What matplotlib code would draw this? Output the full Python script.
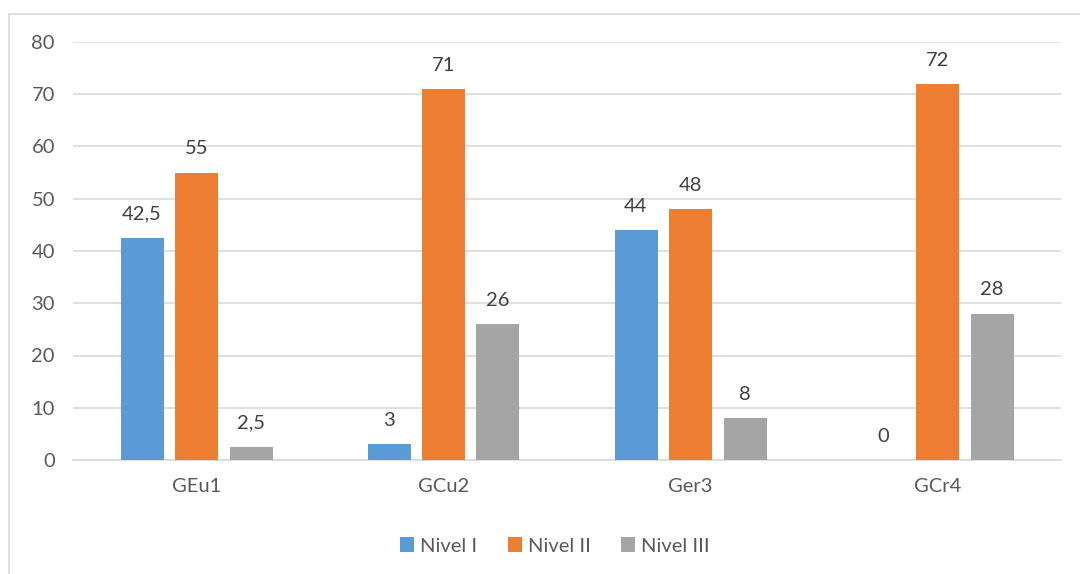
import matplotlib
matplotlib.use("Agg")
import matplotlib.pyplot as plt
import numpy as np
from matplotlib.patches import Rectangle

categories = ["GEu1", "GCu2", "Ger3", "GCr4"]
series_names = ["Nivel I", "Nivel II", "Nivel III"]
nivel1 = [42.5, 3, 44, 0]
nivel2 = [55, 71, 48, 72]
nivel3 = [2.5, 26, 8, 28]
colors = ["#5B9BD5", "#ED7D31", "#A5A5A5"]

plt.rcParams['font.family'] = ['Lato', 'DejaVu Sans']

fig = plt.figure(figsize=(10.8, 5.74), dpi=100)
ax = fig.add_axes([73/1080, 1 - 460/574, (1061-73)/1080, (460-42)/574])

# outer chart border
fig.patches.append(Rectangle((9/1080, -0.1), 1.2, 0.1 + (574-13.5)/574,
                             transform=fig.transFigure, fill=False,
                             edgecolor="#D9D9D9", linewidth=1.2, zorder=0))

x = np.arange(len(categories))
w = 43/247
step = 54.5/247
for i, (vals, name, c) in enumerate(zip([nivel1, nivel2, nivel3], series_names, colors)):
    pos = x + (i - 1) * step
    ax.bar(pos, vals, width=w, color=c, label=name, zorder=3)
    for p, v in zip(pos, vals):
        txt = f"{v:g}".replace(".", ",")
        ax.annotate(txt, (p, v), xytext=(0, 11), textcoords="offset points",
                    ha="center", va="bottom", fontsize=14.5, color="#404040")

ax.set_xlim(-0.5, len(categories) - 0.5)
ax.set_ylim(0, 80)
ax.set_yticks(range(0, 81, 10))
ax.set_xticks(x)
ax.set_xticklabels(categories)
ax.grid(axis="y", color="#D9D9D9", linewidth=1.2, zorder=0)
ax.set_axisbelow(True)
for s in ["top", "right", "left"]:
    ax.spines[s].set_visible(False)
ax.spines["bottom"].set_color("#D9D9D9")
ax.spines["bottom"].set_linewidth(1.2)
ax.tick_params(axis="both", length=0, labelsize=14.5, labelcolor="#595959")
ax.tick_params(axis="y", pad=13)
ax.tick_params(axis="x", pad=13)

leg = fig.legend(loc="center", bbox_to_anchor=(555/1080, 1 - 546/574), ncol=3,
                 frameon=False, fontsize=14.5, handlelength=0.7, handleheight=0.7,
                 handletextpad=0.3, columnspacing=1.5)
for t in leg.get_texts():
    t.set_color("#595959")

fig.savefig("out.png", dpi=100)
